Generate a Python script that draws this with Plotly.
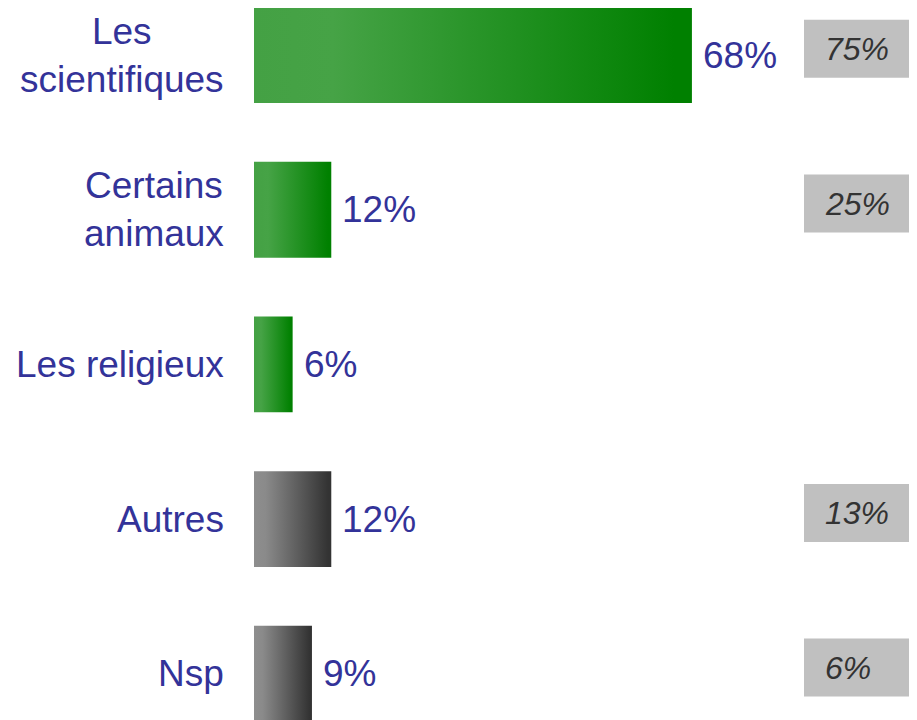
import plotly.graph_objects as go

# ---- data ----
categories = ["Les<br>scientifiques", "Certains<br>animaux", "Les religieux", "Autres", "Nsp"]
values = [68, 12, 6, 12, 9]
value_labels = ["68%", "12%", "6%", "12%", "9%"]
compare_values = [75, 25, None, 13, 6]
compare_labels = ["75%", "25%", None, "13%", "6%"]
groups = ["green", "green", "green", "gray", "gray"]

# ---- style ----
OFF = 8  # page body margin offset
W, H = 917 - OFF, 720 - OFF
PX_PER_UNIT = 6.44
X0_PX = 254 - OFF
ROW_PX = 154.7
ROW0_PX = 55 - OFF
BAR_HALF = 0.31
LABEL_COLOR = "#333399"
FONT = "Liberation Sans, Arial, sans-serif"
scales = {
    "green": [[0, "#44a144"], [0.18, "#46a346"], [0.96, "#008000"], [1, "#008000"]],
    "gray": [[0, "#8e8e8e"], [0.15, "#8a8a8a"], [0.96, "#333333"], [1, "#333333"]],
}

x_range = [-X0_PX / PX_PER_UNIT, (W - X0_PX) / PX_PER_UNIT]
y_top = -ROW0_PX / ROW_PX
y_range = [y_top + H / ROW_PX, y_top]

fig = go.Figure()

for i, (v, g) in enumerate(zip(values, groups)):
    fig.add_trace(go.Scatter(
        x=[0, v, v, 0, 0],
        y=[i - BAR_HALF, i - BAR_HALF, i + BAR_HALF, i + BAR_HALF, i - BAR_HALF],
        mode="lines",
        line=dict(width=0),
        fill="toself",
        fillgradient=dict(type="horizontal", colorscale=scales[g]),
        hoverinfo="skip",
        showlegend=False,
    ))

annotations = []
shapes = []
for i, (cat, v, vl, cv, cl) in enumerate(zip(categories, values, value_labels, compare_values, compare_labels)):
    annotations.append(dict(
        x=(226 - OFF) / W, xref="paper", y=i, yref="y",
        text=cat, showarrow=False, xanchor="right", yanchor="middle", align="center",
        font=dict(family=FONT, size=37, color=LABEL_COLOR),
    ))
    annotations.append(dict(
        x=v, xref="x", y=i, yref="y", xshift=9,
        text=vl, showarrow=False, xanchor="left", yanchor="middle",
        font=dict(family=FONT, size=37, color=LABEL_COLOR),
    ))
    if cv is not None:
        shapes.append(dict(
            type="rect", xref="paper", yref="y",
            x0=(804 - OFF) / W, x1=1.0,
            y0=i - 0.04 - 29 / ROW_PX, y1=i - 0.04 + 29 / ROW_PX,
            fillcolor="#c0c0c0", line=dict(width=0), layer="below",
        ))
        annotations.append(dict(
            x=(823 - OFF) / W, xref="paper", y=i - 0.04, yref="y",
            text="<i>" + cl + "</i>", showarrow=False, xanchor="left", yanchor="middle",
            font=dict(family=FONT, size=32, color="#333333"),
        ))

fig.update_layout(
    width=W, height=H,
    margin=dict(l=0, r=0, t=0, b=0),
    paper_bgcolor="white", plot_bgcolor="white",
    xaxis=dict(range=x_range, visible=False, fixedrange=True),
    yaxis=dict(range=y_range, visible=False, fixedrange=True),
    annotations=annotations,
    shapes=shapes,
    showlegend=False,
)

fig.write_html("out.html")
